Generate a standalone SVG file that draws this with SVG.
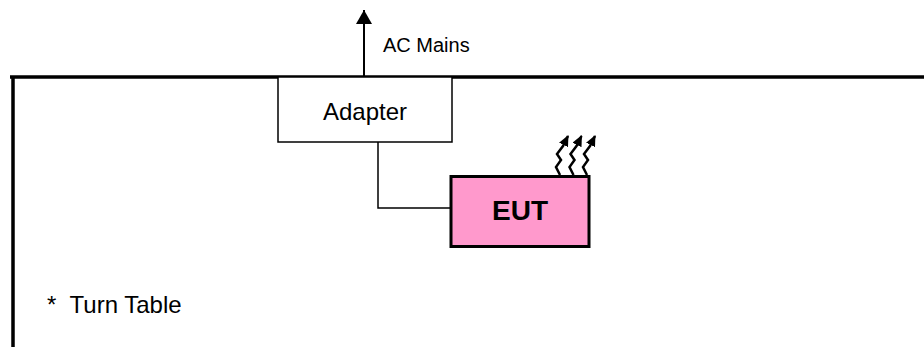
<svg xmlns="http://www.w3.org/2000/svg" width="924" height="347" viewBox="0 0 924 347">
<style>
text{font-family:"Liberation Sans",Arial,sans-serif;fill:#000}
.ln{stroke:#000;fill:none}
</style>
<defs>
<marker id="ah" markerWidth="14" markerHeight="16" refX="14" refY="8" orient="auto" markerUnits="userSpaceOnUse">
<path d="M0,0 L14,8 L0,16 Z" fill="#000"/>
</marker>
<marker id="ws" markerWidth="11" markerHeight="10" refX="10" refY="5" orient="auto" markerUnits="userSpaceOnUse">
<path d="M0,0 L11,5 L0,10 Z" fill="#000"/>
</marker>
<path id="wv" d="M0,0 L-4,-8 L1,-15 L-3,-21 L3,-29 L8,-39" class="ln" stroke-width="2.5" marker-end="url(#ws)"/>
</defs>
<g id="turntable">
<path d="M10,77 L924,77 M13,77 L13,347" class="ln" stroke-width="3.5"/>
<text x="47" y="313" font-size="24">* <tspan dx="7">Turn Table</tspan></text>
</g>
<g id="connectors">
<path d="M364,77 L364,10" class="ln" stroke-width="2" marker-end="url(#ah)"/>
<text x="383" y="52" font-size="20">AC Mains</text>
<path d="M378,142 L378,208 L450,208" class="ln" stroke-width="1.5"/>
<use href="#wv" x="560" y="175"/>
<use href="#wv" x="573.5" y="175"/>
<use href="#wv" x="587" y="175"/>
</g>
<g id="adapter">
<rect x="278" y="77" width="174" height="65" fill="#fff" stroke="#000" stroke-width="1.5"/>
<text x="365" y="120" font-size="24" text-anchor="middle">Adapter</text>
</g>
<g id="eut">
<rect x="451" y="176.5" width="138" height="70" fill="#FF99CC" stroke="#000" stroke-width="3"/>
<text x="520" y="220" font-size="28" font-weight="bold" text-anchor="middle">EUT</text>
</g>
</svg>
